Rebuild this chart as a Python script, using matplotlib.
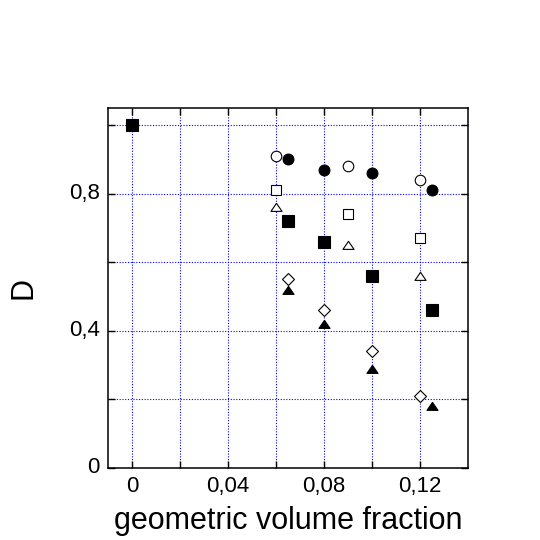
import matplotlib
matplotlib.use("Agg")
import matplotlib.pyplot as plt
from matplotlib.path import Path
from matplotlib.transforms import ScaledTranslation

plt.rcParams['font.family'] = ['Liberation Sans', 'DejaVu Sans']

# series
sq_fill_x = [0, 0.065, 0.08, 0.10, 0.125]
sq_fill_y = [1.0, 0.72, 0.66, 0.56, 0.46]
circ_open_x = [0.06, 0.09, 0.12]
circ_open_y = [0.91, 0.88, 0.84]
circ_fill_x = [0.065, 0.08, 0.10, 0.125]
circ_fill_y = [0.90, 0.87, 0.86, 0.81]
sq_open_x = [0.06, 0.09, 0.12]
sq_open_y = [0.81, 0.74, 0.67]
tri_open_x = [0.06, 0.09, 0.12]
tri_open_y = [0.76, 0.65, 0.56]
dia_open_x = [0.065, 0.08, 0.10, 0.12]
dia_open_y = [0.55, 0.46, 0.34, 0.21]
tri_fill_x = [0.065, 0.08, 0.10, 0.125]
tri_fill_y = [0.52, 0.42, 0.29, 0.18]

x_ticks = [0, 0.02, 0.04, 0.06, 0.08, 0.10, 0.12]
x_labels = ["0", "", "0,04", "", "0,08", "", "0,12"]
y_ticks = [0, 0.2, 0.4, 0.6, 0.8, 1.0]
y_labels = ["0", "", "0,4", "", "0,8", ""]

fig = plt.figure(figsize=(5.4, 5.4), dpi=100)
ax = fig.add_axes([0.2, 0.1333, 0.6667, 0.6667])

# flat triangle, closed so the open ones get a full outline
tri = Path([(-1, -0.7), (1, -0.7), (0, 0.75), (-1, -0.7)], closed=True)
lw = 0.8
ax.plot(sq_fill_x, sq_fill_y, ls="none", marker="s", ms=8, mfc="black", mec="black", mew=lw, zorder=3)
ax.plot(circ_open_x, circ_open_y, ls="none", marker="o", ms=7.6, mfc="white", mec="black", mew=lw, zorder=3)
ax.plot(circ_fill_x, circ_fill_y, ls="none", marker="o", ms=7.8, mfc="black", mec="black", mew=lw, zorder=3)
ax.plot(sq_open_x, sq_open_y, ls="none", marker="s", ms=7.6, mfc="white", mec="black", mew=lw, zorder=3)
ax.plot(tri_open_x, tri_open_y, ls="none", marker=tri, ms=8, mfc="white", mec="black", mew=lw, zorder=3)
ax.plot(dia_open_x, dia_open_y, ls="none", marker="D", ms=6, mfc="white", mec="black", mew=lw, zorder=3)
ax.plot(tri_fill_x, tri_fill_y, ls="none", marker=tri, ms=8, mfc="black", mec="black", mew=lw, zorder=3)

ax.set_xlim(-0.01, 0.14)
ax.set_ylim(0, 1.05)
ax.set_xticks(x_ticks)
ax.set_xticklabels(x_labels)
ax.set_yticks(y_ticks)
ax.set_yticklabels(y_labels)
ax.tick_params(direction="in", length=5, width=1, top=True, right=True,
               labelsize=16, pad=6)
ax.grid(True, color="blue", linestyle=(0, (1, 1.5)), linewidth=0.8)
for sp in ax.spines.values():
    sp.set_linewidth(1.1)

# y labels sit a bit above their ticks in the original
for lab in ax.get_yticklabels():
    lab.set_transform(lab.get_transform() + ScaledTranslation(0, 2 / 72, fig.dpi_scale_trans))

ax.set_xlabel("geometric volume fraction", fontsize=22, labelpad=6)
ax.set_ylabel("D", fontsize=22, labelpad=22)

fig.savefig("out.png", dpi=100)
